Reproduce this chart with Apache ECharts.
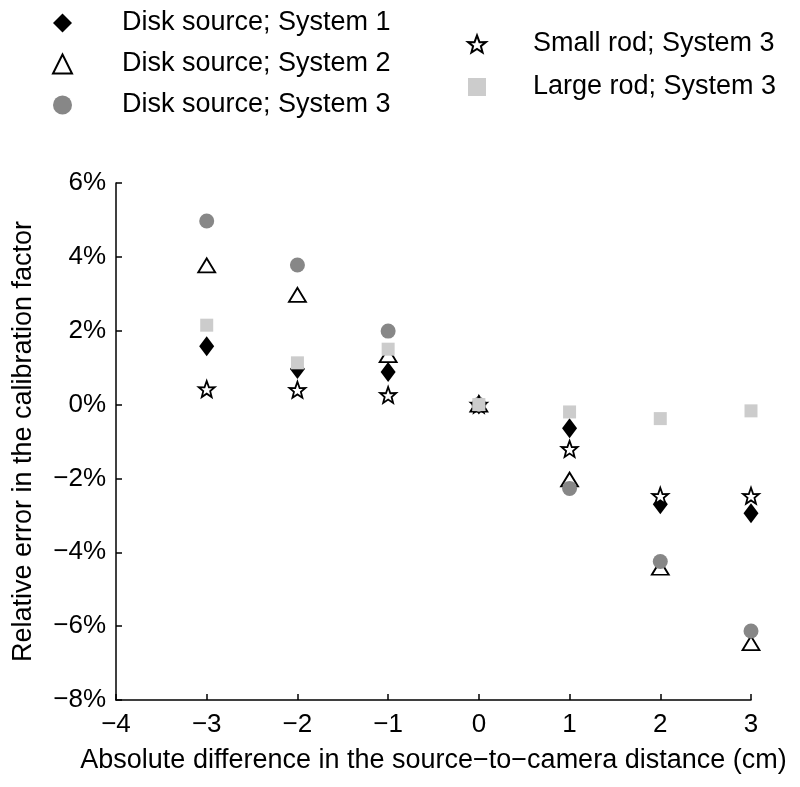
<!DOCTYPE html>
<html>
<head>
<meta charset="utf-8">
<script src="https://cdn.jsdelivr.net/npm/echarts@6/dist/echarts.min.js"></script>
<style>html,body{margin:0;padding:0;background:#fff}#c{width:800px;height:787px}</style>
</head>
<body>
<div id="c"></div>
<script>
const xVals = [-3, -2, -1, 0, 1, 2, 3];
const diskSys1 = [1.58, 0.96, 0.88, 0, -0.64, -2.70, -2.94];
const diskSys2 = [3.77, 2.97, 1.34, 0, -2.03, -4.42, -6.46];
const diskSys3 = [4.97, 3.78, 1.99, 0, -2.27, -4.25, -6.13];
const smallRod = [0.42, 0.40, 0.26, 0, -1.20, -2.47, -2.47];
const largeRod = [2.15, 1.13, 1.50, 0, -0.20, -0.38, -0.17];
const seriesNames = ['Disk source; System 1', 'Disk source; System 2', 'Disk source; System 3', 'Small rod; System 3', 'Large rod; System 3'];
const xTicks = [-4, -3, -2, -1, 0, 1, 2, 3];
const yTicks = [-8, -6, -4, -2, 0, 2, 4, 6];

const FONT = 'Liberation Sans, Arial, Helvetica, sans-serif';
const minus = v => String(v).replace('-', '\u2212');
const STAR = 'path://M10 0 L12.6 7.1 L19.5 6.9 L14.1 11.4 L15.9 18.1 L10 14.3 L4.1 18.1 L5.9 11.4 L0.5 6.9 L7.4 7.1 Z';
const pts = arr => xVals.map((x, i) => [x, arr[i]]);

const chart = echarts.init(document.getElementById('c'), null, {renderer: 'canvas'});
const legendText = pad => ({fontFamily: FONT, fontSize: 27, color: '#000', lineHeight: 30, padding: [0, 0, 0, pad]});
chart.setOption({
  animation: false,
  backgroundColor: '#fff',
  legend: [
    {data: seriesNames.slice(0, 3), orient: 'vertical', left: 47, top: 3, itemWidth: 19, itemHeight: 19, itemGap: 11, textStyle: legendText(45), selectedMode: false},
    {data: seriesNames.slice(3), orient: 'vertical', left: 462, top: 24, itemWidth: 18, itemHeight: 18, itemGap: 13, textStyle: legendText(42), selectedMode: false}
  ],
  grid: {left: 116, right: 49, top: 183, bottom: 87, containLabel: false},
  xAxis: {
    type: 'value', min: -4, max: 3, interval: 1,
    name: 'Absolute difference in the source\u2212to\u2212camera distance (cm)',
    nameLocation: 'middle', nameGap: 47,
    nameTextStyle: {fontFamily: FONT, fontSize: 27, color: '#000'},
    axisLine: {show: true, onZero: false, lineStyle: {color: '#000', width: 1.5}},
    axisTick: {show: true, inside: true, length: 6, lineStyle: {color: '#000', width: 1.5}},
    axisLabel: {fontFamily: FONT, fontSize: 26, color: '#000', margin: 12, formatter: v => minus(v)},
    splitLine: {show: false}
  },
  yAxis: {
    type: 'value', min: -8, max: 6, interval: 2,
    name: 'Relative error in the calibration factor',
    nameLocation: 'middle', nameGap: 79,
    nameTextStyle: {fontFamily: FONT, fontSize: 27, color: '#000'},
    axisLine: {show: true, onZero: false, lineStyle: {color: '#000', width: 1.5}},
    axisTick: {show: true, inside: true, length: 6, lineStyle: {color: '#000', width: 1.5}},
    axisLabel: {fontFamily: FONT, fontSize: 26, color: '#000', margin: 10, formatter: v => minus(v) + '%'},
    splitLine: {show: false}
  },
  series: [
    {name: seriesNames[0], type: 'scatter', data: pts(diskSys1), symbol: 'diamond', symbolSize: [15, 20], itemStyle: {color: '#000', opacity: 1}, z: 2},
    {name: seriesNames[1], type: 'scatter', data: pts(diskSys2), symbol: 'triangle', symbolSize: [17, 14], itemStyle: {color: '#fff', borderColor: '#000', borderWidth: 1.8, opacity: 1}, z: 3},
    {name: seriesNames[2], type: 'scatter', data: pts(diskSys3), symbol: 'circle', symbolSize: 15, itemStyle: {color: '#878787', opacity: 1}, z: 4},
    {name: seriesNames[3], type: 'scatter', data: pts(smallRod), symbol: STAR, symbolSize: 16, itemStyle: {color: '#fff', borderColor: '#000', borderWidth: 1.8, opacity: 1}, z: 5},
    {name: seriesNames[4], type: 'scatter', data: pts(largeRod), symbol: 'rect', symbolSize: 13, itemStyle: {color: '#cccccc', opacity: 1}, z: 6}
  ]
});
</script>
</body>
</html>
